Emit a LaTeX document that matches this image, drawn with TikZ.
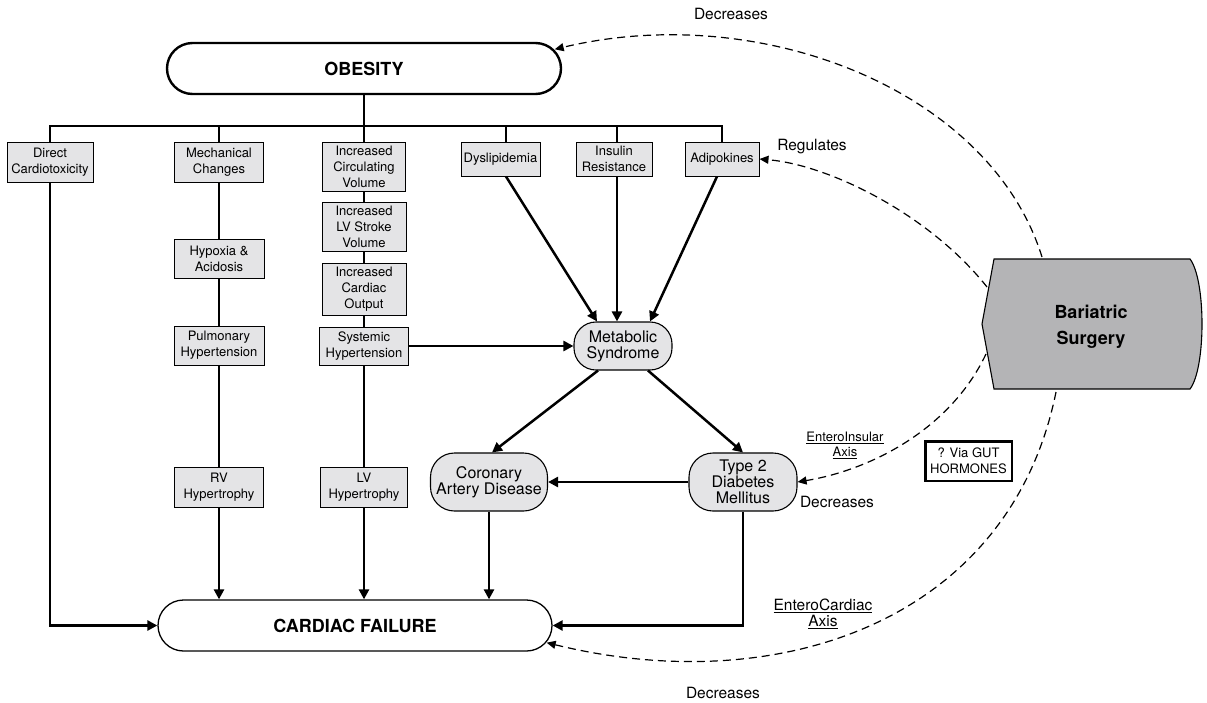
\documentclass[tikz,border=0pt]{standalone}
\usepackage{fontspec}
\setmainfont{TeX Gyre Heros}
\usetikzlibrary{arrows.meta}
\definecolor{boxgray}{RGB}{228,228,230}
\definecolor{surggray}{RGB}{180,180,182}
\tikzset{
  sbox/.style={draw, line width=1pt, fill=boxgray, inner sep=0pt, align=center,
    font=\fontsize{13}{16}\selectfont},
  pill/.style={draw, line width=1.1pt, fill=boxgray, inner sep=0pt, align=center,
    font=\fontsize{16}{16}\selectfont},
  bigpill/.style={draw, rounded corners=25.5pt, inner sep=0pt, minimum height=51pt,
    minimum width=394pt, font=\bfseries\fontsize{18}{22}\selectfont},
  link/.style={line width=2.5pt},
  arr/.style={line width=2.5pt, -{Triangle[length=10pt,width=10pt]}},
  darr/.style={line width=1.2pt, dash pattern=on 8pt off 5pt, -{Triangle[length=9pt,width=8pt]}},
  lbl/.style={inner sep=0pt, align=center, font=\fontsize{15.5}{16}\selectfont},
  sml/.style={inner sep=0pt, align=center, font=\fontsize{13}{15}\selectfont},
}
\begin{document}
\begin{tikzpicture}[x=1pt, y=-1pt]
\useasboundingbox (0,0) rectangle (1207,702);

% main terminals
\node[bigpill, line width=2.4pt] (ob) at (364,68.5) {OBESITY};
\node[bigpill, line width=1.3pt] (cf) at (355,625.5) {CARDIAC FAILURE};

% first row
\node[sbox, minimum width=86pt, minimum height=40pt] (dc) at (50,162) {Direct\\Cardiotoxicity};
\node[sbox, minimum width=89pt, minimum height=40pt] (mc) at (219,162) {Mechanical\\Changes};
\node[sbox, minimum width=83pt, minimum height=49pt] (icv) at (364,166.5) {Increased\\Circulating\\Volume};
\node[sbox, minimum width=79pt, minimum height=34pt] (dys) at (500.5,159) {Dyslipidemia};
\node[sbox, minimum width=76pt, minimum height=34pt] (ir) at (614,159) {Insulin\\Resistance};
\node[sbox, minimum width=74pt, minimum height=34pt] (adi) at (722,159) {Adipokines};

% columns
\node[sbox, minimum width=90pt, minimum height=39pt] (ha) at (219,258.5) {Hypoxia \&\\Acidosis};
\node[sbox, minimum width=90pt, minimum height=39pt] (ph) at (219,345.5) {Pulmonary\\Hypertension};
\node[sbox, minimum width=89pt, minimum height=40pt] (rv) at (219,487) {RV\\Hypertrophy};
\node[sbox, minimum width=84pt, minimum height=49pt] (lvs) at (364,226.5) {Increased\\LV Stroke\\Volume};
\node[sbox, minimum width=84pt, minimum height=52pt] (co) at (364,289) {Increased\\Cardiac\\Output};
\node[sbox, minimum width=89pt, minimum height=38pt] (sh) at (364,346) {Systemic\\Hypertension};
\node[sbox, minimum width=87pt, minimum height=40pt] (lv) at (364,487) {LV\\Hypertrophy};

% rounded nodes
\node[pill, rounded corners=22pt, minimum width=98pt, minimum height=48pt] (ms) at (623,346) {Metabolic\\Syndrome};
\node[pill, rounded corners=24pt, minimum width=117pt, minimum height=58pt] (cad) at (489,482) {Coronary\\Artery Disease};
\node[pill, rounded corners=24pt, minimum width=108pt, minimum height=58pt] (t2) at (743,482) {Type 2\\Diabetes\\Mellitus};

% bariatric surgery shape
\draw[line width=1.1pt, fill=surggray] (994,259) -- (1190,259)
  .. controls (1206,280) and (1206,368) .. (1190,389) -- (994,389) -- (982,324) -- cycle;
\node[inner sep=0pt, align=center, font=\bfseries\fontsize{18}{26}\selectfont] (bs) at (1091,327) {Bariatric\\Surgery};
\coordinate (bsT) at (1042,257);
\coordinate (bsUL) at (987,287);
\coordinate (bsLL) at (986,354);
\coordinate (bsB) at (1056,392);

% bus
\coordinate (b1) at (50,126);
\coordinate (b2) at (219,126);
\coordinate (b3) at (364,126);
\coordinate (b4) at (506,126);
\coordinate (b5) at (617,126);
\coordinate (b6) at (722,126);
\draw[link] (ob.south) -- (icv.north);
\draw[link] (dc.north) -- (b1) -- (b6) -- (adi.north);
\draw[link] (b2) -- (mc.north);
\draw[link] (b4) -- (b4 |- dys.north);
\draw[link] (b5) -- (b5 |- ir.north);

% column chains
\draw[link] (mc) -- (ha);
\draw[link] (ha) -- (ph);
\draw[link] (ph) -- (rv);
\draw[link] (icv) -- (lvs);
\draw[link] (lvs) -- (co);
\draw[link] (co) -- (sh);
\draw[link] (sh) -- (lv);

% arrows to cardiac failure
\draw[arr] (dc) |- (cf.west);
\draw[arr] (rv) -- (rv |- cf.north);
\draw[arr] (lv) -- (lv |- cf.north);
\draw[arr] (cad) -- (cad |- cf.north);
\draw[arr] (t2) |- (cf.east);

% metabolic syndrome connections
\draw[arr] (sh) -- (ms);
\draw[arr] (b4 |- dys.south) -- ([xshift=-26pt]ms.north);
\draw[arr] (b5 |- ir.south) -- (b5 |- ms.north);
\draw[arr] ([xshift=-5pt]adi.south) -- ([xshift=27pt]ms.north);
\draw[arr] ([xshift=-25pt]ms.south) -- ([xshift=3pt]cad.north);
\draw[arr] ([xshift=25pt]ms.south) -- (t2.north);
\draw[arr] (t2) -- (cad);

% dashed effects of surgery
\draw[darr] (bsT) .. controls (990,90) and (760,0) .. ([xshift=-7.5pt,yshift=-7.5pt]ob.north east);
\draw[darr] (bsUL) .. controls (930,215) and (830,165) .. (adi.east);
\draw[darr] (bsLL) .. controls (950,430) and (870,470) .. (t2.east);
\draw[darr] (bsB) .. controls (1010,620) and (780,700) .. ([xshift=-6pt,yshift=9pt]cf.south east);

% labels
\node[lbl] (dec1) at (731,14) {Decreases};
\node[lbl] (reg) at (812,147) {Regulates};
\node[sml] (eia) at (845,445) {\underline{EnteroInsular}\\\underline{Axis}};
\node[lbl] (dec2) at (837,502) {Decreases};
\node[draw, line width=2.5pt, inner sep=0pt, minimum width=86.5pt, minimum height=39.5pt,
  align=center, font=\fontsize{13}{16}\selectfont] (gut) at (968.5,461) {? Via GUT\\HORMONES};
\node[lbl] (eca) at (823,614) {\underline{EnteroCardiac}\\\underline{Axis}};
\node[lbl] (dec3) at (723,693) {Decreases};
\end{tikzpicture}
\end{document}
